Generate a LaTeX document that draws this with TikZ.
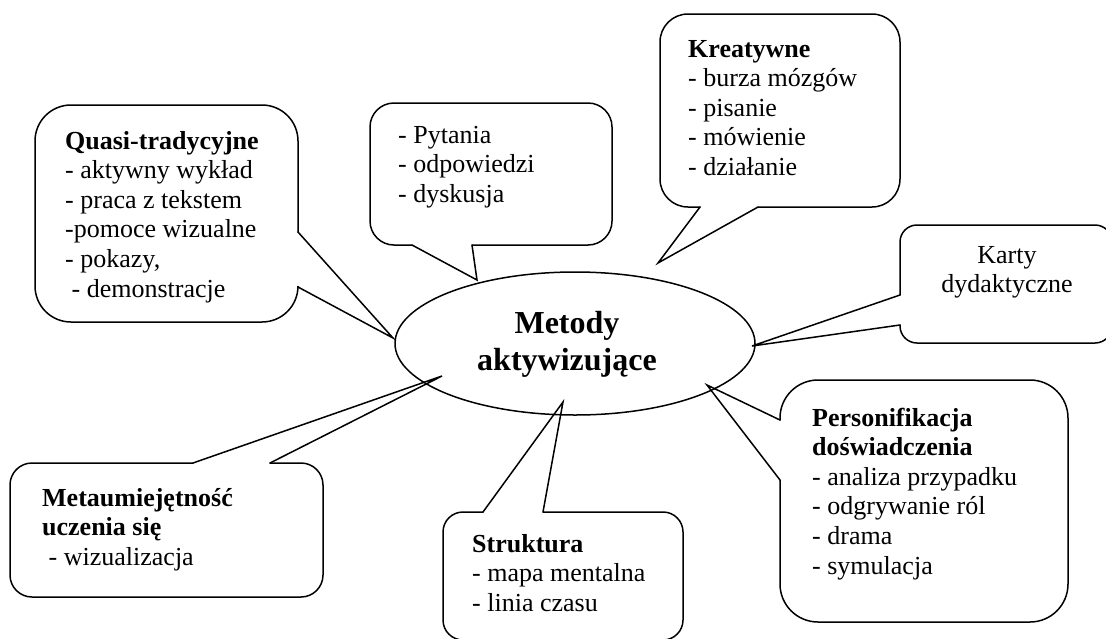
\documentclass[tikz,border=0pt]{standalone}
\usepackage{fontspec}
\setmainfont{Liberation Serif}
\usetikzlibrary{shapes.geometric}
\begin{document}
\begin{tikzpicture}[x=1pt,y=-1pt,
  outline/.style={line width=1.5pt, line cap=round, rounded corners=#1},
  wedge/.style={line width=1.5pt, line cap=round, line join=miter},
  label/.style={anchor=base west, align=left, inner sep=0pt,
    font=\fontsize{26}{29.6}\selectfont},
  hubtext/.style={anchor=base, align=center, inner sep=0pt,
    font=\fontsize{32}{37}\selectfont\bfseries}]
\useasboundingbox (0,0) rectangle (1106,638);
\clip (0,0) rectangle (1106,638);

% central ellipse (text nodes are placed by the baseline of their last line)
\node[draw, ellipse, line width=1.5pt, minimum width=360pt, minimum height=143pt,
  inner sep=0pt] (hub) at (575,343.5) {};
\node[hubtext] (hubt) at (567,370) {Metody\\aktywizujące};

% tips of the callout wedges
\coordinate (tipQ) at (393,338);
\coordinate (tipP) at (477,280);
\coordinate (tipK) at (658,263);
\coordinate (tipD) at (752,346);
\coordinate (tipO) at (707,385);
\coordinate (tipM) at (442,376);
\coordinate (tipS) at (563,402);

% Quasi-tradycyjne
\draw[outline=36pt] (298,287) -- (298,322) -- (35,322) -- (35,105) -- (298,105) -- (298,232);
\draw[wedge] (298,232) -- (tipQ) -- (298,287);
\node[label] (quasi) at (65,297) {\textbf{Quasi-tradycyjne}\\- aktywny wykład\\- praca z tekstem\\-pomoce wizualne\\- pokazy,\\\hspace{6.5pt}- demonstracje};

% Pytania
\draw[outline=24pt] (472,245) -- (612,245) -- (612,103) -- (370,103) -- (370,245) -- (412,245);
\draw[wedge] (412,245) -- (tipP) -- (472,245);
\node[label] (pyt) at (398,202.2) {- Pytania\\- odpowiedzi\\- dyskusja};

% Kreatywne
\draw[outline=28pt] (700,207) -- (660,207) -- (660,14) -- (900,14) -- (900,207) -- (758,207);
\draw[wedge] (758,207) -- (tipK) -- (700,207);
\node[label] (kreat) at (688,175.4) {\textbf{Kreatywne}\\- burza mózgów\\- pisanie\\- mówienie\\- działanie};

% Karty dydaktyczne
\draw[outline=17pt] (900,325) -- (900,343) -- (1112,343) -- (1112,225) -- (900,225) -- (900,295);
\draw[wedge] (900,295) -- (tipD) -- (900,325);
\node[label, anchor=base, align=center] (karty) at (1007,292.6) {Karty\\dydaktyczne};

% Personifikacja doświadczenia
\draw[outline=38pt] (780,480) -- (780,622) -- (1068,622) -- (1068,380) -- (780,380) -- (780,420);
\draw[wedge] (780,420) -- (tipO) -- (780,480);
\node[label] (pers) at (812,574) {\textbf{Personifikacja}\\\textbf{doświadczenia}\\- analiza przypadku\\- odgrywanie ról\\- drama\\- symulacja};

% Metaumiejętność uczenia się
\draw[outline=22pt] (270,463) -- (323,463) -- (323,597) -- (10,597) -- (10,463) -- (193,463);
\draw[wedge] (193,463) -- (tipM) -- (270,463);
\node[label] (meta) at (42,565.2) {\textbf{Metaumiejętność}\\\textbf{uczenia się}\\\hspace{6.5pt}- wizualizacja};

% Struktura
\draw[outline=20pt] (543,512) -- (683,512) -- (683,640) -- (443,640) -- (443,512) -- (483,512);
\draw[wedge] (483,512) -- (tipS) -- (543,512);
\node[label] (strukt) at (472,611.2) {\textbf{Struktura}\\- mapa mentalna\\- linia czasu};
\end{tikzpicture}
\end{document}
